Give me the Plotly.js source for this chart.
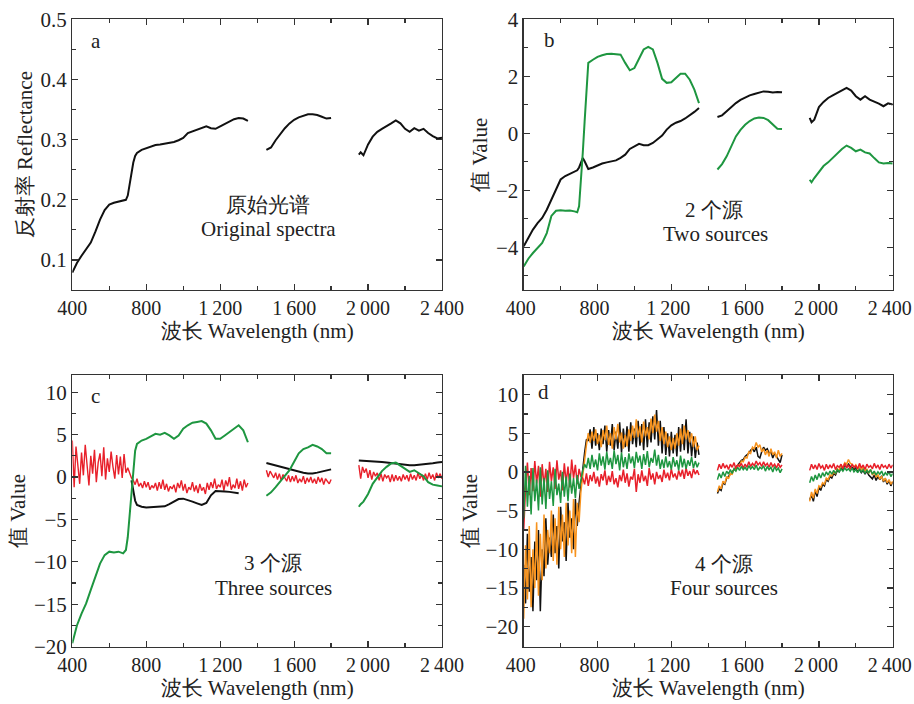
<!DOCTYPE html>
<html>
<head>
<meta charset="utf-8">
<script src="https://cdn.plot.ly/plotly-3.0.1.min.js"></script>
<style>html,body{margin:0;padding:0;background:#fff;}#chart{width:914px;height:704px;}</style>
</head>
<body>
<div id="chart"></div>
<script>
// ---------- wavelength grids (nm) ----------
const wlS1 = [400,425,450,475,500,525,550,575,600,625,650,675,690,700,710,720,730,740,750,775,800,825,850,875,900,925,950,975,1000,1025,1050,1075,1100,1125,1150,1175,1200,1225,1250,1275,1300,1325,1350];
const wlS2 = [1450,1475,1500,1525,1550,1575,1600,1625,1650,1675,1700,1725,1750,1775,1800];
const wlS3 = [1950,1960,1975,2000,2025,2050,2075,2100,2125,2150,2175,2200,2225,2250,2275,2300,2325,2350,2375,2400];

const wl10a = [400,410,420,430,440,450,460,470,480,490,500,510,520,530,540,550,560,570,580,590,600,610,620,630,640,650,660,670,680,690,700,710,720,730,740,750,760,770,780,790,800,810,820,830,840,850,860,870,880,890,900,910,920,930,940,950,960,970,980,990,1000,1010,1020,1030,1040,1050,1060,1070,1080,1090,1100,1110,1120,1130,1140,1150,1160,1170,1180,1190,1200,1210,1220,1230,1240,1250,1260,1270,1280,1290,1300,1310,1320,1330,1340,1350];
const wl10b = [1450,1460,1470,1480,1490,1500,1510,1520,1530,1540,1550,1560,1570,1580,1590,1600,1610,1620,1630,1640,1650,1660,1670,1680,1690,1700,1710,1720,1730,1740,1750,1760,1770,1780,1790,1800];
const wl10c = [1950,1960,1970,1980,1990,2000,2010,2020,2030,2040,2050,2060,2070,2080,2090,2100,2110,2120,2130,2140,2150,2160,2170,2180,2190,2200,2210,2220,2230,2240,2250,2260,2270,2280,2290,2300,2310,2320,2330,2340,2350,2360,2370,2380,2390,2400];

// ---------- panel a: original reflectance ----------
const aRefl1 = [0.079,0.095,0.107,0.117,0.129,0.147,0.167,0.183,0.192,0.195,0.197,0.198,0.200,0.207,0.225,0.245,0.262,0.273,0.278,0.283,0.286,0.289,0.291,0.292,0.293,0.295,0.296,0.299,0.303,0.311,0.314,0.316,0.319,0.322,0.319,0.318,0.322,0.326,0.330,0.334,0.336,0.335,0.331];
const aRefl2 = [0.283,0.287,0.299,0.310,0.319,0.327,0.333,0.337,0.340,0.342,0.342,0.341,0.338,0.335,0.336];
const aRefl3 = [0.275,0.279,0.274,0.292,0.305,0.313,0.318,0.322,0.327,0.332,0.327,0.318,0.313,0.319,0.315,0.318,0.311,0.306,0.302,0.303];

// ---------- panel b: two sources ----------
const bBlack1 = [-3.96,-3.65,-3.38,-3.15,-2.97,-2.68,-2.33,-1.95,-1.62,-1.50,-1.42,-1.36,-1.30,-1.20,-1.00,-0.87,-0.98,-1.15,-1.25,-1.20,-1.12,-1.06,-1.02,-0.99,-0.95,-0.86,-0.75,-0.55,-0.46,-0.37,-0.42,-0.42,-0.34,-0.22,-0.08,0.13,0.28,0.37,0.43,0.52,0.62,0.75,0.89];
const bBlack2 = [0.57,0.63,0.77,0.92,1.06,1.17,1.26,1.33,1.38,1.43,1.47,1.46,1.43,1.45,1.44];
const bBlack3 = [0.54,0.39,0.48,0.92,1.10,1.24,1.33,1.42,1.50,1.59,1.50,1.30,1.18,1.30,1.18,1.12,1.04,0.95,1.05,1.01];
const bGreen1 = [-4.67,-4.40,-4.20,-4.02,-3.85,-3.50,-2.90,-2.72,-2.70,-2.72,-2.71,-2.74,-2.77,-2.56,-1.70,-0.69,0.40,1.41,2.47,2.58,2.68,2.74,2.78,2.79,2.78,2.76,2.47,2.21,2.29,2.64,2.94,3.03,2.94,2.47,1.91,1.77,1.79,1.94,2.09,2.09,1.88,1.53,1.06];
const bGreen2 = [-1.27,-1.08,-0.81,-0.45,-0.11,0.12,0.30,0.43,0.52,0.55,0.54,0.46,0.30,0.16,0.15];
const bGreen3 = [-1.63,-1.72,-1.57,-1.35,-1.15,-1.02,-0.86,-0.69,-0.55,-0.43,-0.51,-0.63,-0.57,-0.67,-0.71,-0.87,-1.02,-1.06,-1.04,-1.06];

// ---------- panel c: three sources ----------
const cGreen1 = [-19.6,-17.5,-16.1,-14.9,-13.3,-11.8,-10.2,-9.2,-8.8,-8.9,-8.8,-9.0,-8.6,-7.1,-4.3,-1.5,0.8,3.1,3.9,4.3,4.5,4.8,5.1,5.0,5.2,4.9,4.5,4.9,5.7,6.1,6.4,6.5,6.6,6.3,5.5,4.5,4.5,4.9,5.3,5.7,6.1,5.5,4.1];
const cGreen2 = [-2.2,-1.8,-1.2,-0.5,0.2,0.8,1.8,2.8,3.3,3.5,3.8,3.6,3.3,2.8,2.8];
const cGreen3 = [-3.5,-3.2,-2.9,-2.0,-0.8,0.0,0.7,1.2,1.6,1.7,1.3,0.9,0.6,0.8,0.4,0.1,-0.6,-0.9,-1.0,-1.1];
const cBlack1 = [null,null,null,null,null,null,null,null,null,null,null,null,null,null,null,-0.4,-1.5,-2.8,-3.3,-3.5,-3.6,-3.55,-3.55,-3.5,-3.45,-3.2,-2.9,-2.6,-2.55,-2.7,-2.9,-3.1,-3.3,-3.05,-2.15,-1.65,-1.65,-1.7,-1.75,-1.8,-1.9,null,null];
const cBlack2 = [1.65,1.5,1.38,1.25,1.12,0.95,0.78,0.62,0.5,0.42,0.42,0.52,0.65,0.78,0.9];
const cBlack3 = [1.96,1.95,1.93,1.9,1.86,1.82,1.77,1.7,1.62,1.55,1.48,1.4,1.38,1.38,1.42,1.48,1.55,1.62,1.7,1.76];
const cRed1 = [4.3,-1.2,3.6,0.9,-0.8,2.9,0.2,3.8,1.4,-1.0,2.5,0.4,3.2,-0.6,1.7,2.8,0.1,3.5,-0.3,2.2,0.6,3.0,1.2,-0.2,2.6,0.3,2.4,-0.1,2.7,0.5,1.1,0.4,
  -0.1,-0.4,-0.9,-0.2,-1.1,-0.7,-1.3,-0.5,-1.2,-0.6,-1.5,-1.0,-1.3,-0.7,-1.6,-0.6,-1.4,-0.3,-1.5,-0.8,-1.7,-1.1,-1.4,-0.9,-1.8,-0.7,-1.3,-0.4,-1.6,-0.8,-1.9,-1.2,-1.5,-0.6,-1.7,-1.0,-1.9,-0.8,-1.6,-1.2,-2.0,-0.7,-1.5,-0.6,-1.3,-0.2,-1.4,-0.9,-1.2,-0.3,-1.6,-0.4,-1.1,0.0,-1.5,-0.9,-1.3,-0.2,-1.4,-0.5,-1.6,-0.3,-1.2,-0.7];
const cRed2 = [0.8,0.0,0.7,0.3,-0.1,0.5,-0.3,0.4,-0.4,0.3,-0.1,-0.5,0.2,-0.6,0.1,-0.5,0.2,-0.7,-0.2,-0.6,0.1,-0.8,-0.1,-0.6,0.0,-0.7,-0.2,-0.8,0.0,-0.6,-0.1,-0.9,-0.2,-0.5,-0.8,-0.3];
const cRed3 = [1.4,-0.2,1.2,0.5,1.0,-0.1,0.8,-0.3,0.6,0.1,0.5,-0.4,0.4,-0.5,0.3,-0.1,0.2,-0.6,0.3,-0.5,0.2,-0.4,0.1,-0.5,0.3,-0.3,0.2,-0.5,0.4,-0.3,0.2,-0.4,0.5,-0.2,0.3,-0.4,0.4,-0.3,0.5,-0.2,0.3,-0.4,0.5,-0.1,0.4,-0.2];

// ---------- panel d: four sources ----------
const dBlack1 = [-12.0,-17.0,-8.0,-15.5,-11.0,-18.0,-9.0,-14.0,-7.5,-18.0,-10.0,-13.5,-6.0,-12.0,-8.5,-11.0,-5.5,-10.5,-7.0,-12.5,-4.5,-9.0,-6.5,-11.5,-4.0,-8.5,-6.0,-10.0,-3.5,-7.0,-4.0,-1.5,
  0.0,2.5,4.2,4.0,5.5,3.0,5.8,3.4,5.0,2.8,5.6,3.6,6.0,2.6,5.4,3.4,6.2,2.8,5.2,3.0,6.4,2.5,5.6,3.2,5.9,2.6,6.4,3.6,5.6,3.2,6.6,3.4,6.2,2.8,6.8,3.2,6.4,3.8,7.2,4.2,8.0,3.4,6.6,2.4,5.8,2.2,5.0,2.0,5.2,2.4,4.8,2.0,5.8,2.6,6.2,2.8,6.8,2.4,5.2,2.0,4.6,1.8,3.8,2.2];
const dBlack2 = [-2.8,-2.2,-2.4,-1.4,-1.6,-0.8,-0.6,-0.3,0.0,0.3,0.6,0.8,1.2,1.5,1.6,2.0,2.2,2.4,2.8,3.0,2.6,3.2,2.0,1.8,2.6,3.2,2.8,3.0,2.4,2.6,1.8,2.4,2.0,1.6,1.2,2.2];
const dBlack3 = [-3.6,-3.0,-3.8,-2.4,-3.2,-2.0,-2.4,-1.6,-1.8,-1.0,-1.2,-0.6,-0.8,-0.2,-0.4,0.2,0.0,0.5,0.3,0.9,0.6,1.0,0.7,0.6,0.3,0.5,0.0,0.3,-0.1,0.2,-0.3,0.1,-0.4,-0.6,-0.9,-0.4,-1.1,-0.6,-1.0,-0.5,-1.3,-0.9,-1.6,-1.1,-1.8,-1.3];
const dOrange1 = [-19.0,-9.5,-16.5,-7.0,-17.5,-10.0,-15.0,-6.5,-16.0,-8.0,-14.0,-5.5,-12.5,-7.5,-10.5,-5.0,-11.5,-6.0,-12.0,-4.5,-10.0,-5.5,-11.0,-4.0,-9.5,-5.0,-10.5,-3.5,-11.0,-4.0,-6.5,-2.5,
  -0.5,2.0,3.5,5.0,3.8,5.2,4.0,5.5,3.6,4.8,3.2,5.4,4.1,6.0,3.5,5.0,3.0,5.8,4.2,6.2,3.8,5.1,3.0,4.8,3.3,5.5,4.0,6.0,4.4,6.8,4.5,5.9,3.8,6.5,4.6,5.8,4.2,6.9,5.0,7.4,5.2,6.6,4.0,5.8,3.6,5.2,3.2,4.6,2.8,4.4,3.0,5.0,3.4,5.6,3.6,6.0,4.2,5.4,3.8,5.0,3.2,4.6,2.8,3.4];
const dOrange2 = [-2.6,-1.8,-2.2,-1.2,-1.5,-0.6,-0.9,-0.2,-0.3,0.4,0.2,0.9,0.8,1.4,1.3,1.9,1.8,2.6,2.4,3.2,3.0,3.8,3.2,3.5,2.6,3.0,2.2,2.8,2.0,3.0,2.2,2.6,1.8,2.8,2.0,2.4];
const dOrange3 = [-3.8,-2.6,-3.4,-2.2,-2.8,-1.8,-2.0,-1.4,-1.6,-0.8,-1.0,-0.4,-0.5,0.0,-0.2,0.4,0.2,0.8,0.6,1.2,1.0,1.6,1.1,1.0,0.6,0.9,0.4,0.7,0.2,0.6,0.0,0.4,-0.2,0.3,-0.4,0.0,-0.7,-0.4,-0.9,-0.6,-1.2,-0.8,-1.4,-1.0,-1.6,-1.2];
const dRed1 = [-7.5,-2.0,1.2,-3.0,0.5,-2.5,1.4,-1.5,0.8,-3.2,1.0,-1.8,0.4,-2.6,1.3,-1.2,0.6,-2.2,1.5,-1.0,0.2,-2.4,1.1,-1.4,0.7,-2.0,1.6,-0.8,0.9,-1.6,0.4,-0.6,
  -0.8,-1.6,-0.2,-1.8,-0.4,-1.2,0.0,-1.5,-0.6,-1.9,-0.3,-1.1,0.2,-1.7,-0.5,-1.3,0.1,-1.6,-0.8,-2.0,-0.4,-1.2,0.3,-1.4,-0.2,-1.9,-0.6,-1.0,0.4,-2.6,-0.3,-1.4,0.2,-1.2,-0.5,-1.8,0.5,-1.0,-0.2,-1.6,0.0,-0.9,-0.4,-1.3,0.3,-0.8,-0.1,-1.1,0.4,-0.7,-0.2,-1.0,0.2,-0.6,0.3,-0.9,0.5,-0.5,0.1,-0.8,0.4,-0.3,0.2,-0.4];
const dRed2 = [0.2,1.0,0.4,1.1,0.5,0.9,0.3,1.0,0.6,1.2,0.4,0.9,0.7,1.1,0.5,1.0,0.6,1.3,0.7,1.1,0.8,1.4,0.9,1.2,0.7,1.3,0.8,1.1,0.6,1.2,0.7,1.0,0.5,1.1,0.6,0.9];
const dRed3 = [0.2,1.0,0.4,0.9,0.3,1.1,0.5,0.8,0.2,1.0,0.4,0.9,0.5,1.1,0.3,0.8,0.6,1.0,0.4,1.1,0.5,0.9,0.3,1.0,0.6,0.8,0.4,1.1,0.5,0.9,0.3,1.0,0.6,0.8,0.4,1.1,0.5,0.9,0.3,1.0,0.6,0.8,0.4,1.0,0.5,0.9];
const dGreen1 = [-6.0,0.8,-4.5,-0.5,-5.5,0.5,-3.8,-1.0,-5.0,0.6,-4.2,-0.8,-4.8,0.2,-3.5,-1.2,-4.4,0.4,-3.0,-1.5,-4.0,0.0,-3.2,-0.6,-3.8,-0.2,-2.8,-0.8,-3.4,-0.4,-2.2,-0.8,
  0.2,1.0,0.5,1.8,0.4,2.2,0.6,1.6,0.2,2.4,0.8,2.0,0.3,2.6,0.9,1.8,0.4,2.8,1.0,2.2,0.2,2.5,0.6,1.9,0.4,2.4,1.1,2.0,0.5,2.6,1.2,2.1,0.4,2.3,0.9,2.7,0.6,1.8,1.2,2.9,0.8,2.2,0.4,1.6,0.5,2.0,0.6,1.4,0.3,1.9,0.7,1.5,0.2,2.1,0.6,1.7,0.4,1.5,0.8,1.9,0.5,1.4,0.6,1.2];
const dGreen2 = [-1.0,-0.2,-0.8,0.0,-0.6,0.1,-0.3,0.3,-0.2,0.4,0.1,0.6,0.2,0.7,0.3,0.6,0.2,0.8,0.4,0.7,0.3,0.9,0.2,0.6,0.4,0.8,0.1,0.7,0.3,0.6,0.0,0.7,0.2,0.5,-0.1,0.4];
const dGreen3 = [-1.4,-0.6,-1.2,-0.4,-1.0,-0.2,-0.8,-0.1,-0.6,0.0,-0.4,0.1,-0.3,0.2,-0.2,0.3,0.0,0.4,0.1,0.5,0.2,0.4,0.1,0.5,0.0,0.3,-0.1,0.4,0.0,0.3,-0.2,0.2,-0.1,0.3,-0.3,0.1,-0.4,0.0,-0.3,0.1,-0.5,-0.1,-0.4,0.0,-0.6,-0.2];

// ---------- tick labels (thin space as thousands separator) ----------
const xTickVals = [400,800,1200,1600,2000,2400];
const xTickText = ['400','800','1\u2009200','1\u2009600','2\u2009000','2\u2009400'];

// ---------- styling ----------
const BLACK = '#111111', GREEN = '#1e9640', RED = '#e8202a', ORANGE = '#f7931e';
const FONT = 'Liberation Serif, Times New Roman, Times, serif';
const FS = 21;

const traces = [];
function addSeries(xs, ysList, color, width, ax) {
  ysList.forEach((ys, i) => {
    traces.push({x: xs[i], y: ys, type: 'scatter', mode: 'lines',
      line: {color: color, width: width}, xaxis: ax[0], yaxis: ax[1],
      showlegend: false, hoverinfo: 'skip', connectgaps: false});
  });
}
const S = [wlS1, wlS2, wlS3], T = [wl10a, wl10b, wl10c];
addSeries(S, [aRefl1, aRefl2, aRefl3], BLACK, 2, ['x', 'y']);
addSeries(S, [bBlack1, bBlack2, bBlack3], BLACK, 2, ['x2', 'y2']);
addSeries(S, [bGreen1, bGreen2, bGreen3], GREEN, 2, ['x2', 'y2']);
addSeries(T, [cRed1, cRed2, cRed3], RED, 1.4, ['x3', 'y3']);
addSeries(S, [cBlack1, cBlack2, cBlack3], BLACK, 2, ['x3', 'y3']);
addSeries(S, [cGreen1, cGreen2, cGreen3], GREEN, 2, ['x3', 'y3']);
addSeries(T, [dBlack1, dBlack2, dBlack3], BLACK, 1.5, ['x4', 'y4']);
addSeries(T, [dOrange1, dOrange2, dOrange3], ORANGE, 1.5, ['x4', 'y4']);
addSeries(T, [dRed1, dRed2, dRed3], RED, 1.5, ['x4', 'y4']);
addSeries(T, [dGreen1, dGreen2, dGreen3], GREEN, 1.5, ['x4', 'y4']);

function xAxis(domain, anchor, shift) {
  return {domain: domain, anchor: anchor, range: [400, 2400], tickvals: xTickVals, ticktext: xTickText,
    ticks: 'inside', ticklen: 6, tickwidth: 1.2, tickcolor: '#333', showline: true, linecolor: '#333', linewidth: 1.3,
    mirror: 'allticks', showgrid: false, zeroline: false, ticklabeloverflow: 'allow', ticklabelshift: shift || 0,
    minor: {ticks: 'inside', dtick: 200, tick0: 400, ticklen: 4, tickcolor: '#333', showgrid: false},
    tickfont: {family: FONT, size: 20, color: '#222'},
    title: {text: '波长 Wavelength (nm)', font: {family: FONT, size: FS, color: '#222'}, standoff: 2}};
}
function yAxis(domain, anchor, range, dtick, minor, title, fmt) {
  return {domain: domain, anchor: anchor, range: range, dtick: dtick, tick0: 0,
    ticks: 'inside', ticklen: 6, tickwidth: 1.2, tickcolor: '#333', showline: true, linecolor: '#333', linewidth: 1.3,
    mirror: 'allticks', showgrid: false, zeroline: false, tickformat: fmt, ticklabeloverflow: 'allow',
    minor: {ticks: 'inside', dtick: minor, ticklen: 4, tickcolor: '#333', showgrid: false},
    tickfont: {family: FONT, size: FS, color: '#222'},
    title: {text: title, font: {family: FONT, size: FS, color: '#222'}, standoff: 2}};
}

const topY = [0.588, 0.9726], botY = [0.0814, 0.467];
const leftX = [0.0791, 0.4836], rightX = [0.573, 0.9767];

function ann(x, y, text, size) {
  return {x: x / 914, y: 1 - y / 704, xref: 'paper', yref: 'paper', text: text, showarrow: false,
    xanchor: 'center', yanchor: 'middle',
    font: {family: FONT, size: size || FS, color: '#222'}};
}

const layout = {
  width: 914, height: 704, margin: {l: 0, r: 0, t: 0, b: 0},
  paper_bgcolor: '#fff', plot_bgcolor: '#fff', showlegend: false,
  font: {family: FONT},
  xaxis: xAxis(leftX, 'y'),
  yaxis: yAxis(topY, 'x', [0.05, 0.5], 0.1, 0.05, '反射率 Reflectance', '.1f'),
  xaxis2: xAxis(rightX, 'y2', -3),
  yaxis2: yAxis(topY, 'x2', [-5.5, 4], 2, 1, '值 Value', ''),
  xaxis3: xAxis(leftX, 'y3'),
  yaxis3: yAxis(botY, 'x3', [-20, 12], 5, 2.5, '值 Value', ''),
  xaxis4: xAxis(rightX, 'y4', -3),
  yaxis4: yAxis(botY, 'x4', [-22.6, 12.5], 5, 2.5, '值 Value', ''),
  annotations: [
    ann(96, 41, 'a'),
    ann(549, 40, 'b'),
    ann(95, 396, 'c'),
    ann(543, 392, 'd'),
    ann(268, 205, '原始光谱'),
    ann(268, 229, 'Original spectra'),
    ann(714, 210, '2 个源'),
    ann(715, 234, 'Two sources'),
    ann(273, 563, '3 个源'),
    ann(273, 588, 'Three sources'),
    ann(724, 564, '4 个源'),
    ann(724, 588, 'Four sources')
  ]
};

Plotly.newPlot('chart', traces, layout, {staticPlot: true, displayModeBar: false});
</script>
</body>
</html>
